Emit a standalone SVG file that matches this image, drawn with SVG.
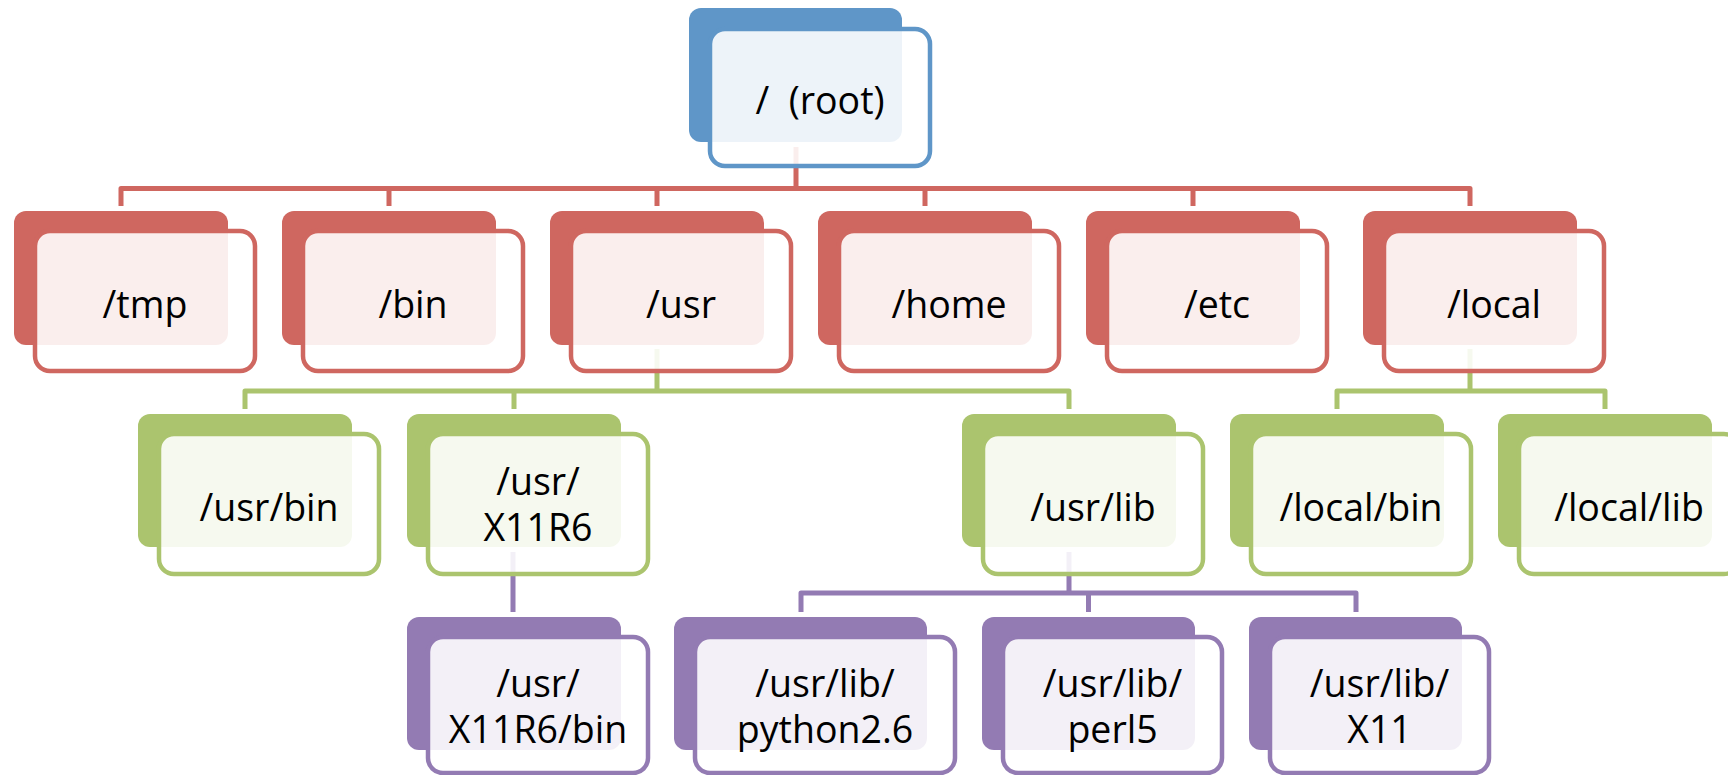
<svg xmlns="http://www.w3.org/2000/svg" width="1728" height="775" viewBox="0 0 1728 775">
<style>
.bg{fill:#ffffff}
.back{stroke:none}
.front{fill:#ffffff;fill-opacity:0.89;stroke-width:4.5}
.blue .back{fill:#5F96C8}.blue .front{stroke:#5F96C8}
.red .back{fill:#CF6760}.red .front{stroke:#CF6760}
.green .back{fill:#ABC46E}.green .front{stroke:#ABC46E}
.purple .back{fill:#937BB3}.purple .front{stroke:#937BB3}
.conn path{fill:none;stroke-width:5;stroke-linejoin:round;stroke-linecap:butt}
.c-red{stroke:#CF6760}.c-green{stroke:#ABC46E}.c-purple{stroke:#937BB3}
text{font-family:"Open Sans","Liberation Sans",sans-serif;font-size:37.5px;fill:#000000;text-anchor:middle}
</style>
<rect class="bg" x="0" y="0" width="1728" height="775"/>
<g id="connectors" class="conn">
  <path class="c-red" d="M121,206 V188.5 H1470 V206 M796,147 V188.5 M389,188.5 V206 M657,188.5 V206 M925,188.5 V206 M1193,188.5 V206"/>
  <path class="c-green" d="M245,409 V391 H1069 V409 M657,349 V391 M514,391 V409 M1337,409 V391 H1605 V409 M1470,349 V391"/>
  <path class="c-purple" d="M513,552 V612 M801,612 V593 H1356 V612 M1069,552 V593 M1088.5,593 V612"/>
</g>
<g id="n-root" class="blue">
  <rect class="back" x="689" y="8" width="213" height="134" rx="12"/>
  <rect class="front" x="710" y="29" width="220" height="137" rx="15"/>
  <text x="820" y="114" xml:space="preserve">/  (root)</text>
</g>
<g id="n-tmp" class="red">
  <rect class="back" x="14" y="211" width="214" height="134" rx="12"/>
  <rect class="front" x="35" y="231" width="220" height="140" rx="15"/>
  <text x="145" y="318">/tmp</text>
</g>
<g id="n-bin" class="red">
  <rect class="back" x="282" y="211" width="214" height="134" rx="12"/>
  <rect class="front" x="303" y="231" width="220" height="140" rx="15"/>
  <text x="413" y="318">/bin</text>
</g>
<g id="n-usr" class="red">
  <rect class="back" x="550" y="211" width="214" height="134" rx="12"/>
  <rect class="front" x="571" y="231" width="220" height="140" rx="15"/>
  <text x="681" y="318">/usr</text>
</g>
<g id="n-home" class="red">
  <rect class="back" x="818" y="211" width="214" height="134" rx="12"/>
  <rect class="front" x="839" y="231" width="220" height="140" rx="15"/>
  <text x="949" y="318">/home</text>
</g>
<g id="n-etc" class="red">
  <rect class="back" x="1086" y="211" width="214" height="134" rx="12"/>
  <rect class="front" x="1107" y="231" width="220" height="140" rx="15"/>
  <text x="1217" y="318">/etc</text>
</g>
<g id="n-local" class="red">
  <rect class="back" x="1363" y="211" width="214" height="134" rx="12"/>
  <rect class="front" x="1384" y="231" width="220" height="140" rx="15"/>
  <text x="1494" y="318">/local</text>
</g>
<g id="n-usr-bin" class="green">
  <rect class="back" x="138" y="414" width="214" height="133" rx="12"/>
  <rect class="front" x="159" y="434" width="220" height="140" rx="15"/>
  <text x="269" y="521">/usr/bin</text>
</g>
<g id="n-usr-x11r6" class="green">
  <rect class="back" x="407" y="414" width="214" height="133" rx="12"/>
  <rect class="front" x="428" y="434" width="220" height="140" rx="15"/>
  <text x="538" y="495"><tspan x="538" y="495">/usr/</tspan><tspan x="538" y="541">X11R6</tspan></text>
</g>
<g id="n-usr-lib" class="green">
  <rect class="back" x="962" y="414" width="214" height="133" rx="12"/>
  <rect class="front" x="983" y="434" width="220" height="140" rx="15"/>
  <text x="1093" y="521">/usr/lib</text>
</g>
<g id="n-local-bin" class="green">
  <rect class="back" x="1230" y="414" width="214" height="133" rx="12"/>
  <rect class="front" x="1251" y="434" width="220" height="140" rx="15"/>
  <text x="1361" y="521">/local/bin</text>
</g>
<g id="n-local-lib" class="green">
  <rect class="back" x="1498" y="414" width="214" height="133" rx="12"/>
  <rect class="front" x="1519" y="434" width="220" height="140" rx="15"/>
  <text x="1629" y="521">/local/lib</text>
</g>
<g id="n-x11r6-bin" class="purple">
  <rect class="back" x="407" y="617" width="214" height="133" rx="12"/>
  <rect class="front" x="428" y="637" width="220" height="136" rx="15"/>
  <text x="538" y="697"><tspan x="538" y="697">/usr/</tspan><tspan x="538" y="743">X11R6/bin</tspan></text>
</g>
<g id="n-python" class="purple">
  <rect class="back" x="674" y="617" width="253" height="133" rx="12"/>
  <rect class="front" x="695" y="637" width="260" height="136" rx="15"/>
  <text x="825" y="697"><tspan x="825" y="697">/usr/lib/</tspan><tspan x="825" y="743">python2.6</tspan></text>
</g>
<g id="n-perl5" class="purple">
  <rect class="back" x="982" y="617" width="213" height="133" rx="12"/>
  <rect class="front" x="1003" y="637" width="219" height="136" rx="15"/>
  <text x="1112.5" y="697"><tspan x="1112.5" y="697">/usr/lib/</tspan><tspan x="1112.5" y="743">perl5</tspan></text>
</g>
<g id="n-x11" class="purple">
  <rect class="back" x="1249" y="617" width="213" height="133" rx="12"/>
  <rect class="front" x="1270" y="637" width="219" height="136" rx="15"/>
  <text x="1379.5" y="697"><tspan x="1379.5" y="697">/usr/lib/</tspan><tspan x="1379.5" y="743">X11</tspan></text>
</g>
</svg>
